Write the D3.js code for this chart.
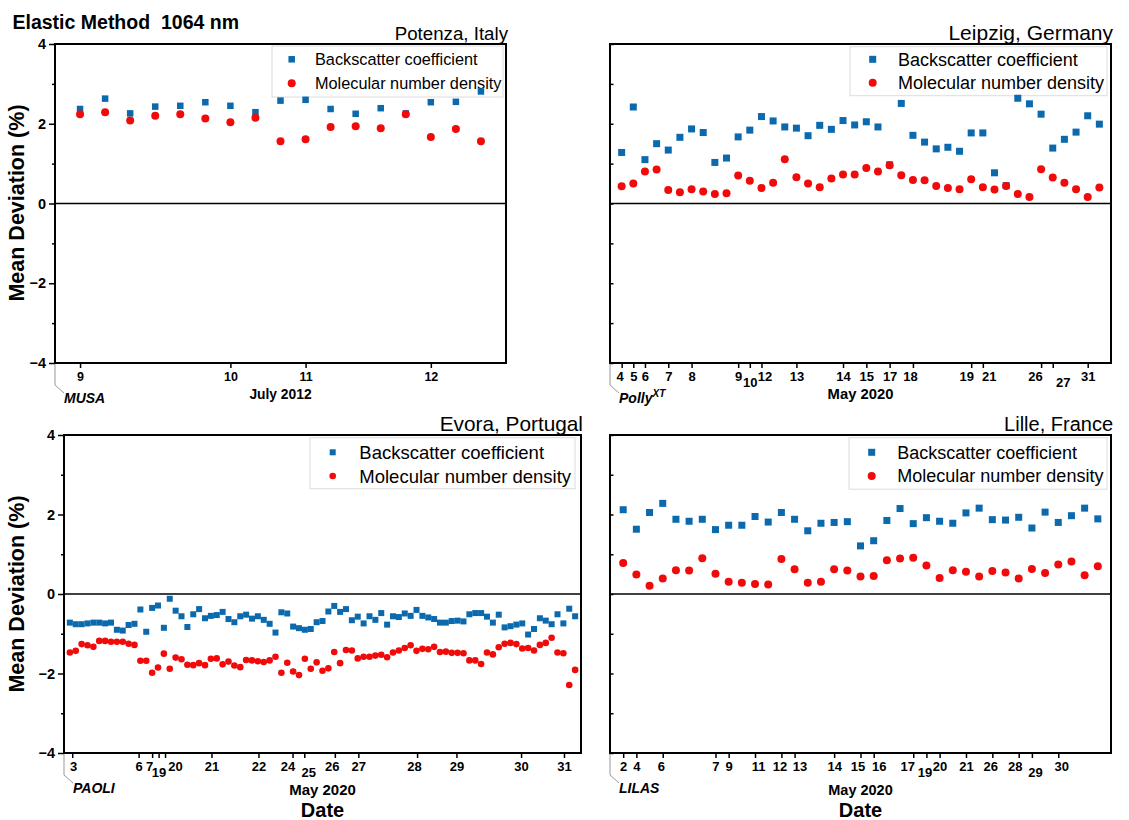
<!DOCTYPE html>
<html>
<head>
<meta charset="utf-8">
<script src="https://cdn.jsdelivr.net/npm/d3@7"></script>
<style>
  body { margin: 0; background: #fff; }
  svg { display: block; font-family: "Liberation Sans", Arial, sans-serif; }
</style>
</head>
<body>
<svg id="chart" width="1129" height="820"></svg>
<script>
// ---- data ----
const potenzaBackscatter = [2.37, 2.63, 2.26, 2.43, 2.45, 2.54, 2.45, 2.29, 2.58, 2.60, 2.37, 2.25, 2.39, 2.26, 2.54, 2.55, 2.81];
const potenzaMolecular   = [2.24, 2.29, 2.08, 2.20, 2.24, 2.13, 2.04, 2.15, 1.56, 1.61, 1.92, 1.94, 1.89, 2.24, 1.67, 1.87, 1.56];
const potenzaTicks  = [0, 6, 9, 14];
const potenzaLabels = ["9", "10", "11", "12"];

const leipzigBackscatter = [1.28, 2.42, 1.10, 1.50, 1.34, 1.66, 1.87, 1.78, 1.03, 1.14, 1.67, 1.84, 2.18, 2.07,
  1.92, 1.89, 1.70, 1.96, 1.86, 2.08, 1.97, 2.05, 1.92, 0.97, 2.51, 1.71, 1.54, 1.37, 1.41, 1.31, 1.77, 1.77,
  0.77, 0.45, 2.64, 2.50, 2.24, 1.39, 1.61, 1.79, 2.20, 1.99];
const leipzigMolecular = [0.43, 0.50, 0.80, 0.85, 0.34, 0.28, 0.36, 0.30, 0.24, 0.26, 0.70, 0.57, 0.39, 0.52,
  1.11, 0.66, 0.50, 0.41, 0.63, 0.73, 0.73, 0.89, 0.80, 0.96, 0.71, 0.59, 0.58, 0.44, 0.39, 0.36, 0.61, 0.41,
  0.35, 0.44, 0.24, 0.16, 0.86, 0.65, 0.52, 0.36, 0.16, 0.40];
const leipzigTicks  = [0, 1, 2, 4, 6, 10, 11, 12, 15, 19, 21, 23, 25, 30, 31, 36, 37, 40];
const leipzigLabels = ["4", "5", "6", "7", "8", "9", "10", "12", "13", "14", "15", "17", "18", "19", "21", "26", "27", "31"];

const evoraBackscatter = [-0.72, -0.76, -0.76, -0.74, -0.72, -0.72, -0.74, -0.72, -0.90, -0.92, -0.78, -0.75,
  -0.39, -0.95, -0.35, -0.29, -0.85, -0.12, -0.42, -0.56, -0.83, -0.51, -0.38, -0.61, -0.55, -0.53, -0.45,
  -0.63, -0.71, -0.56, -0.52, -0.62, -0.56, -0.65, -0.75, -0.97, -0.46, -0.49, -0.82, -0.86, -0.90, -0.88,
  -0.71, -0.68, -0.44, -0.30, -0.45, -0.38, -0.66, -0.57, -0.74, -0.56, -0.65, -0.48, -0.77, -0.56, -0.58,
  -0.49, -0.55, -0.40, -0.55, -0.59, -0.63, -0.72, -0.72, -0.68, -0.67, -0.69, -0.51, -0.48, -0.48, -0.57,
  -0.72, -0.52, -0.84, -0.81, -0.77, -0.74, -1.02, -0.88, -0.61, -0.67, -0.76, -0.51, -0.74, -0.37, -0.56];
const evoraMolecular = [-1.47, -1.43, -1.26, -1.29, -1.33, -1.18, -1.18, -1.20, -1.20, -1.20, -1.25, -1.28,
  -1.68, -1.68, -1.98, -1.85, -1.50, -1.88, -1.60, -1.64, -1.78, -1.79, -1.74, -1.79, -1.63, -1.62, -1.77,
  -1.70, -1.80, -1.84, -1.66, -1.67, -1.69, -1.71, -1.67, -1.58, -1.98, -1.73, -1.95, -2.04, -1.63, -1.88,
  -1.72, -1.93, -1.87, -1.46, -1.74, -1.41, -1.42, -1.62, -1.58, -1.58, -1.55, -1.53, -1.59, -1.47, -1.42,
  -1.36, -1.29, -1.43, -1.38, -1.39, -1.33, -1.46, -1.45, -1.48, -1.48, -1.49, -1.67, -1.67, -1.76, -1.47,
  -1.52, -1.34, -1.25, -1.23, -1.26, -1.37, -1.36, -1.42, -1.28, -1.23, -1.10, -1.47, -1.49, -2.29, -1.91];
const evoraTicks  = [0.4, 11.7, 14, 15.1, 16.2, 24.1, 32.1, 37.9, 39.9, 45.1, 49.1, 59.1, 65.8, 76.8, 84.1];
const evoraLabels = ["3", "6", "7", "19", "20", "21", "22", "24", "25", "26", "27", "28", "29", "30", "31"];

const lilleBackscatter = [2.12, 1.63, 2.05, 2.28, 1.88, 1.83, 1.88, 1.62, 1.73, 1.73, 1.95, 1.81, 2.05, 1.88,
  1.59, 1.78, 1.80, 1.82, 1.21, 1.34, 1.85, 2.15, 1.77, 1.92, 1.83, 1.78, 2.04, 2.16, 1.87, 1.86, 1.93, 1.66,
  2.06, 1.80, 1.97, 2.16, 1.89];
const lilleMolecular = [0.78, 0.49, 0.21, 0.39, 0.60, 0.59, 0.90, 0.51, 0.31, 0.28, 0.25, 0.24, 0.88, 0.62,
  0.28, 0.31, 0.62, 0.59, 0.44, 0.45, 0.85, 0.89, 0.91, 0.72, 0.40, 0.60, 0.56, 0.44, 0.58, 0.54, 0.39, 0.63,
  0.53, 0.74, 0.82, 0.47, 0.70];
const lilleTicks  = [0, 1, 3, 7, 8, 10, 12, 13, 16, 18, 19, 22, 23, 24, 26, 28, 30, 31, 33];
const lilleLabels = ["2", "4", "6", "7", "9", "11", "12", "13", "14", "15", "16", "17", "19", "20", "21", "26", "28", "29", "30"];

const seriesNames = ["Backscatter coefficient", "Molecular number density"];
const yMajor = [-4, -2, 0, 2, 4];
const yMinor = [-3, -1, 1, 3];

// ---- layout ----
const BLUE = "#0b69ad", RED = "#f00a0a";

const panels = [
  { site: "Potenza, Italy", lidar: "MUSA", month: "July 2012", back: potenzaBackscatter, mol: potenzaMolecular,
    ticks: potenzaTicks, labels: potenzaLabels, left: 55, right: 506, top: 44, bottom: 363, yLabels: true,
    titleSize: 18.7, sq: 6.5, r: 4, tickFont: 12.5, monthFont: 13.8, dateLabel: false,
    legend: { w: 231, h: 51, dx: 3, dy: 2, row1: 13.3, row2: 37.3, mdx: 19.7, tdx: 43, font: 16.3 },
    nudge: {}, lowered: [] },
  { site: "Leipzig, Germany", lidar: "Polly", sup: "XT", month: "May 2020", back: leipzigBackscatter, mol: leipzigMolecular,
    ticks: leipzigTicks, labels: leipzigLabels, left: 610, right: 1111, top: 44, bottom: 363, yLabels: false,
    titleSize: 21, sq: 7, r: 4, tickFont: 13, monthFont: 14.8, dateLabel: false,
    legend: { w: 257, h: 49, dx: 4, dy: 2.7, row1: 12.6, row2: 36, mdx: 22.7, tdx: 48, font: 18 },
    nudge: { "4": -2, "12": 3, "18": -3, "19": -5, "21": 6, "26": -6, "27": 10 }, lowered: ["10", "27"] },
  { site: "Evora, Portugal", lidar: "PAOLI", month: "May 2020", back: evoraBackscatter, mol: evoraMolecular,
    ticks: evoraTicks, labels: evoraLabels, left: 64, right: 581, top: 435, bottom: 753, yLabels: true,
    titleSize: 20.8, sq: 6, r: 3.3, tickFont: 13, monthFont: 15, dateLabel: true,
    legend: { w: 265, h: 51, dx: 6, dy: 2.7, row1: 14.6, row2: 38.3, mdx: 22.7, tdx: 49.3, font: 18.5 },
    nudge: { "3": 1, "7": -3, "20": 10, "24": -5, "25": 4, "26": -3, "28": -3 }, lowered: ["19", "25"] },
  { site: "Lille, France", lidar: "LILAS", month: "May 2020", back: lilleBackscatter, mol: lilleMolecular,
    ticks: lilleTicks, labels: lilleLabels, left: 610, right: 1111, top: 435, bottom: 753, yLabels: false,
    titleSize: 20, sq: 7, r: 4, tickFont: 13, monthFont: 14.5, dateLabel: true,
    legend: { w: 258, h: 51.5, dx: 4, dy: 2.7, row1: 14.6, row2: 38.3, mdx: 22.7, tdx: 48.3, font: 18 },
    nudge: { "11": 3, "12": -2, "13": 5, "15": -3, "16": 5, "17": -6, "19": -2, "26": -2, "28": -4, "29": 3, "30": 3, "6": -2 },
    lowered: ["19", "29"] }
];

const svg = d3.select("#chart");

svg.append("text")
  .attr("x", 12.5).attr("y", 28.5)
  .style("font-size", "19.5px").style("font-weight", "bold").style("white-space", "pre")
  .text("Elastic Method  1064 nm");

panels.forEach(p => {
  const g = svg.append("g");
  const n = p.back.length;

  const x = d3.scaleLinear().domain([-1, n]).range([p.left, p.right]);
  const y = d3.scaleLinear().domain([-4, 4]).range([p.bottom, p.top]);

  // site title, right aligned to the frame
  g.append("text")
    .attr("x", p.right + 2).attr("y", p.top - 4)
    .attr("text-anchor", "end")
    .style("font-size", p.titleSize + "px")
    .text(p.site);

  // y axis: major + minor ticks
  const inward = !p.yLabels;
  const yAxisMajor = g.append("g")
    .attr("transform", `translate(${p.left},0)`)
    .call(d3.axisLeft(y).tickValues(yMajor).tickSize(inward ? -3.5 : 6).tickPadding(3)
      .tickFormat(p.yLabels ? d3.format("d") : () => ""));
  const yAxisMinor = g.append("g")
    .attr("transform", `translate(${p.left},0)`)
    .call(d3.axisLeft(y).tickValues(yMinor).tickSize(inward ? -3.5 : 3).tickFormat(() => ""));
  [yAxisMajor, yAxisMinor].forEach(a => {
    a.select(".domain").remove();
    a.selectAll(".tick line").attr("stroke", "#000").attr("stroke-width", 1.5);
  });
  yAxisMajor.selectAll(".tick text")
    .attr("fill", "#000")
    .style("font-size", "14.5px").style("font-weight", "bold")
    .style("font-family", "'Liberation Sans', Arial, sans-serif");

  // x axis: date ticks at the first profile of each day
  const xAxis = g.append("g")
    .attr("transform", `translate(0,${p.bottom})`)
    .call(d3.axisBottom(x).tickValues(p.ticks).tickSize(5).tickPadding(4)
      .tickFormat((d, i) => p.labels[i]));
  xAxis.select(".domain").remove();
  xAxis.selectAll(".tick line").attr("stroke", "#000").attr("stroke-width", 1.5);
  xAxis.selectAll(".tick text")
    .attr("fill", "#000")
    .style("font-size", p.tickFont + "px").style("font-weight", "bold")
    .style("font-family", "'Liberation Sans', Arial, sans-serif")
    .attr("dx", (d, i) => p.nudge[p.labels[i]] || 0)
    .attr("dy", (d, i) => p.lowered.includes(p.labels[i]) ? "1.15em" : "0.71em");

  // month label
  g.append("text")
    .attr("x", (p.left + p.right) / 2).attr("y", p.bottom + (p.dateLabel ? 42 : 36))
    .attr("text-anchor", "middle")
    .style("font-size", p.monthFont + "px").style("font-weight", "bold")
    .text(p.month);

  if (p.dateLabel) {
    g.append("text")
      .attr("x", (p.left + p.right) / 2).attr("y", p.bottom + 63.5)
      .attr("text-anchor", "middle")
      .style("font-size", "20px").style("font-weight", "bold")
      .text("Date");
  }

  // grey bracket + lidar name
  g.append("path")
    .attr("d", `M${p.left},${p.bottom} v22 l9,8`)
    .attr("fill", "none").attr("stroke", "#999").attr("stroke-width", 1);
  const lid = g.append("text")
    .attr("x", p.left + 9).attr("y", p.bottom + 40)
    .style("font-size", "14px").style("font-weight", "bold").style("font-style", "italic")
    .text(p.lidar);
  if (p.sup) {
    lid.append("tspan").attr("dy", -6).style("font-size", "10px").text(p.sup);
  }

  // legend (drawn under the markers)
  const L = p.legend;
  const lx = p.right - L.dx - L.w, ly = p.top + L.dy;
  g.append("rect")
    .attr("x", lx).attr("y", ly).attr("width", L.w).attr("height", L.h)
    .attr("fill", "#fff").attr("stroke", "#dcdcdc").attr("stroke-width", 1);
  g.append("rect")
    .attr("x", lx + L.mdx - p.sq / 2).attr("y", ly + L.row1 - p.sq / 2)
    .attr("width", p.sq).attr("height", p.sq).attr("fill", BLUE);
  g.append("circle")
    .attr("cx", lx + L.mdx).attr("cy", ly + L.row2).attr("r", p.r).attr("fill", RED);
  seriesNames.forEach((s, i) => {
    g.append("text")
      .attr("x", lx + L.tdx).attr("y", ly + (i === 0 ? L.row1 : L.row2))
      .attr("dy", "0.36em")
      .style("font-size", L.font + "px")
      .text(s);
  });

  // zero line
  g.append("line")
    .attr("x1", p.left).attr("x2", p.right)
    .attr("y1", y(0)).attr("y2", y(0))
    .attr("stroke", "#000").attr("stroke-width", 1.6);

  // data
  g.selectAll(".back")
    .data(p.back)
    .enter()
    .append("rect")
      .attr("class", "back")
      .attr("x", (d, i) => x(i) - p.sq / 2)
      .attr("y", d => y(d) - p.sq / 2)
      .attr("width", p.sq).attr("height", p.sq)
      .attr("fill", BLUE);

  g.selectAll(".mol")
    .data(p.mol)
    .enter()
    .append("circle")
      .attr("class", "mol")
      .attr("cx", (d, i) => x(i))
      .attr("cy", d => y(d))
      .attr("r", p.r)
      .attr("fill", RED);

  // frame
  g.append("rect")
    .attr("x", p.left).attr("y", p.top)
    .attr("width", p.right - p.left).attr("height", p.bottom - p.top)
    .attr("fill", "none").attr("stroke", "#000").attr("stroke-width", 2);
});

// y axis titles
[203, 594].forEach(cy => {
  svg.append("text")
    .attr("transform", `translate(24,${cy}) rotate(-90)`)
    .attr("text-anchor", "middle")
    .style("font-size", "21.5px").style("font-weight", "bold")
    .text("Mean Deviation (%)");
});
</script>
</body>
</html>
